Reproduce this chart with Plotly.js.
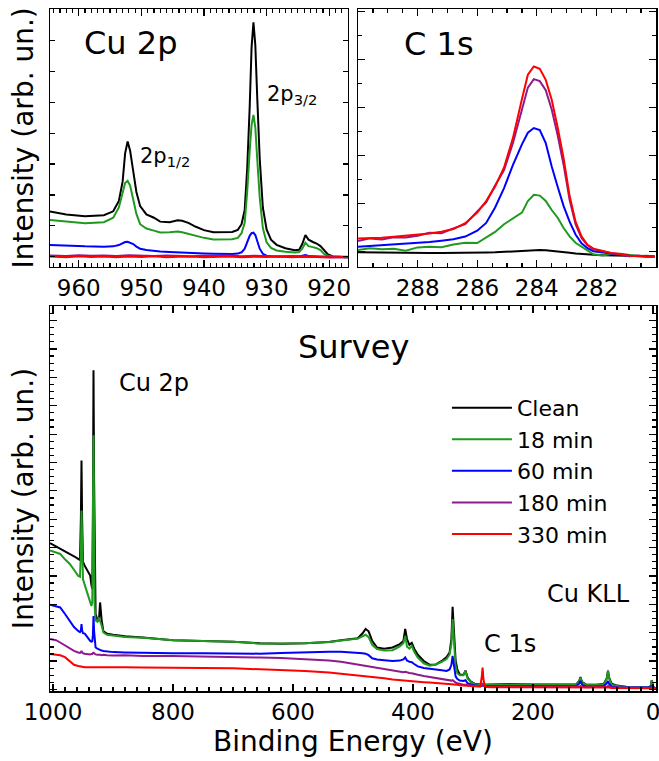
<!DOCTYPE html>
<html>
<head>
<meta charset="utf-8">
<script src="https://cdn.plot.ly/plotly-3.0.1.min.js"></script>
<style>body{margin:0;background:#fff}</style>
</head>
<body>
<div id="chart" style="width:659px;height:761px"></div>
<script>
// ---------- Series meta ----------
const seriesNames = ['Clean', '18 min', '60 min', '180 min', '330 min'];
const seriesColors = ['#000000', '#1f9a1f', '#0000ff', '#8e1b8e', '#ff0000'];

// ---------- Cu 2p panel ----------
const cu2pEnergy = [964.6, 962, 959, 956, 954.5, 953.6, 953, 952.6, 952.2, 951.8, 951.3, 950.8, 950.2, 949.2, 948, 947, 945.5, 944.2, 943.5, 942.5, 941.3, 940, 938.5, 937, 935.5, 934.6, 934, 933.5, 933.1, 932.7, 932.4, 932.1, 931.8, 931.5, 931.1, 930.6, 930, 929.3, 928.4, 927, 925.5, 924.8, 924.3, 923.8, 923.3, 922.6, 922, 921.4, 920.8, 920.2, 919.4, 918, 917];
const cu2pClean = [21.4, 20.3, 19.6, 20.0, 21.5, 25.5, 33, 44, 48.6, 45, 37, 29, 23.5, 20.3, 19.0, 17.5, 17.3, 18.0, 17.8, 17.0, 15.5, 14.2, 13.4, 13.4, 13.5, 14.3, 16.5, 22, 38, 62, 85, 94.8, 86, 66, 42, 23, 14.5, 10.5, 8.5, 7.2, 6.4, 6.6, 8.8, 12.3, 10.5, 9.6, 9.0, 8.0, 6.2, 4.8, 4.0, 3.8, 3.7];
const cu2p18 = [18.1, 17.5, 16.9, 17.3, 19.0, 23, 28.5, 32.5, 33.3, 31.5, 26, 20.5, 16.5, 14.8, 14.0, 13.3, 13.4, 13.7, 13.4, 12.8, 12.2, 11.2, 10.6, 10.6, 10.7, 11.2, 13.0, 17, 29, 45, 55, 58.9, 54, 42, 27, 15, 9.5, 7.3, 6.3, 5.8, 5.5, 5.7, 7.0, 9.3, 8.0, 7.6, 7.2, 6.5, 5.0, 4.3, 3.9, 3.8, 3.7];
const cu2p60 = [8.4, 8.1, 7.9, 7.8, 7.9, 8.4, 9.2, 9.6, 9.7, 9.4, 8.8, 7.8, 7.0, 6.5, 6.1, 5.9, 5.7, 5.5, 5.4, 5.3, 5.2, 5.1, 5.0, 4.9, 4.9, 5.1, 5.6, 7.0, 9.5, 12.0, 13.0, 13.2, 12.3, 10.0, 7.0, 5.0, 4.3, 4.1, 4.0, 3.9, 3.9, 4.0, 4.3, 4.5, 4.2, 4.0, 3.9, 3.8, 3.8, 3.7, 3.7, 3.7, 3.7];
const cu2pFlatEnergy = [964.6, 962, 960, 958, 956, 954, 952, 950, 948, 946, 944, 942, 940, 938, 936, 934, 932, 930, 928, 926, 924, 922, 920, 918, 917];
const cu2p180 = [4.4, 4.2, 4.5, 4.3, 4.4, 4.2, 4.5, 4.3, 4.2, 4.4, 4.3, 4.1, 4.3, 4.2, 4.4, 4.1, 4.3, 4.2, 4.0, 4.2, 4.1, 3.9, 4.0, 3.8, 3.9];
const cu2p330 = [4.0, 3.7, 4.1, 3.8, 4.0, 3.7, 4.0, 3.8, 4.1, 3.7, 3.9, 4.0, 3.7, 3.9, 4.0, 3.7, 3.9, 3.8, 4.0, 3.7, 3.9, 3.8, 3.6, 3.8, 3.7];
const cu2pTicks = [960, 950, 940, 930, 920];

// ---------- C 1s panel ----------
const c1sEnergy = [290, 289.6, 289.2, 288.8, 288.4, 288.0, 287.6, 287.2, 286.8, 286.4, 286.0, 285.7, 285.4, 285.1, 284.8, 284.5, 284.3, 284.1, 283.9, 283.7, 283.5, 283.3, 283.1, 282.9, 282.7, 282.5, 282.3, 282.1, 281.8, 281.5, 281.2, 280.9, 280.6, 280.3, 280.05];
const c1sClean = [5.6, 5.5, 5.5, 5.4, 5.4, 5.3, 5.3, 5.3, 5.3, 5.3, 5.4, 5.5, 5.6, 5.8, 6.0, 6.3, 6.4, 6.5, 6.5, 6.4, 6.2, 6.0, 5.7, 5.4, 5.1, 4.9, 4.7, 4.6, 4.5, 4.4, 4.3, 4.3, 4.2, 4.1, 4.1];
const c1s18 = [6.5, 7.2, 6.8, 7.0, 6.2, 7.5, 7.8, 7.6, 8.6, 9.3, 9.2, 11.5, 13.5, 16.5, 18.8, 21.0, 25.5, 27.9, 27.6, 25.5, 22.0, 19.0, 15.0, 11.8, 9.3, 7.8, 6.2, 4.8, 4.4, 4.9, 5.0, 4.5, 4.2, 4.3, 4.0];
const c1s60 = [7.8, 8.1, 8.4, 8.7, 8.9, 9.2, 9.6, 10.1, 10.7, 11.7, 14.0, 17.0, 23.0, 30.5, 39.5, 47.5, 52.0, 53.8, 53.0, 48.0, 38.9, 31.0, 23.5, 17.5, 12.5, 9.1, 7.2, 6.0, 5.5, 5.0, 4.6, 4.3, 4.2, 4.0, 3.9];
const c1s180 = [10.0, 11.0, 10.6, 11.4, 11.3, 12.0, 13.2, 13.0, 14.9, 16.5, 21.5, 25.0, 31.5, 37.5, 48, 61, 69.5, 72.8, 72.0, 68.5, 61, 51, 39.5, 26, 16.5, 11.2, 8.3, 6.8, 6.1, 5.2, 4.8, 4.1, 4.4, 3.9, 3.9];
const c1s330 = [11.0, 11.1, 11.2, 11.6, 12.0, 12.4, 12.9, 13.6, 14.6, 16.9, 21.0, 25.5, 31.1, 38.5, 50, 65, 74.5, 77.7, 76.8, 72.5, 64.8, 54, 42, 27.5, 17.5, 11.8, 8.5, 7.0, 6.0, 5.3, 4.9, 4.3, 4.1, 4.0, 3.8];
const c1sTicks = [288, 286, 284, 282];

// ---------- Survey panel ----------
const surveyEnergy = [1005, 995, 988, 980, 972, 965, 958, 955, 953.5, 952.5, 951.5, 950, 947, 944, 941, 938, 936, 934.5, 933.5, 932.5, 931.5, 930.5, 929, 926, 923.5, 921.5, 919, 916, 910, 900, 880, 850, 800, 750, 700, 655, 620, 580, 540, 520, 505, 492, 484, 479, 474, 468, 460, 448, 434, 422, 416, 413, 410, 406, 402, 398, 392, 382, 372, 362, 352, 344, 339, 336, 334, 332.5, 331, 329, 326, 322, 316, 312.5, 309, 304, 296, 288, 285.5, 284, 282.5, 280, 270, 240, 200, 160, 128, 123, 121, 118, 112, 95, 82, 77, 75, 73, 69, 60, 40, 20, 8, 4, 2, 0, -2, -5];
const surveyClean = [38.4, 37.6, 36.9, 36.2, 35.6, 35.0, 34.3, 34.0, 45, 59.9, 45, 33.5, 32.5, 31.7, 31.0, 30.0, 27.5, 26.5, 45, 83.3, 55, 28, 20, 18.5, 18.2, 23, 18.5, 15.5, 14.9, 14.6, 14.2, 13.9, 13.2, 13.0, 12.8, 12.4, 12.3, 12.4, 12.7, 13.2, 13.4, 13.7, 15.0, 16.1, 15.5, 13.0, 11.3, 11.0, 11.3, 12.2, 13.0, 16.1, 13.5, 12.0, 12.5, 11.0, 9.4, 7.8, 6.8, 6.9, 7.8, 8.8, 10.0, 13.5, 21.9, 17.5, 11.0, 8.0, 5.5, 4.3, 4.2, 5.3, 3.5, 2.5, 1.8, 1.6, 1.7, 1.9, 1.7, 1.6, 1.7, 1.8, 1.7, 1.7, 1.7, 2.6, 3.6, 2.3, 1.7, 1.6, 1.8, 3.3, 5.3, 3.4, 1.9, 1.4, 1.0, 0.9, 0.9, 1.2, 2.8, 1.2, 0.8, 0.7];
const survey18 = [36.5, 36.0, 35.6, 34.2, 33.0, 31.5, 29.9, 29.7, 36, 46.9, 36, 29.0, 27.5, 26.0, 24.5, 22.8, 22.1, 23.0, 40, 66.4, 44, 22, 18.3, 18.0, 19.1, 18.3, 17.0, 15.2, 14.6, 14.4, 14.0, 13.8, 13.2, 13.0, 12.8, 12.3, 12.3, 12.4, 12.7, 13.2, 13.4, 13.6, 14.3, 14.6, 14.0, 12.0, 10.9, 10.5, 10.6, 11.6, 12.4, 14.3, 11.5, 11.0, 11.7, 10.2, 8.7, 7.2, 6.6, 6.9, 7.6, 8.3, 9.5, 12.2, 18.7, 14.5, 9.0, 6.5, 4.6, 4.1, 4.1, 5.2, 3.2, 2.4, 1.7, 1.6, 1.7, 1.8, 1.7, 1.6, 1.7, 1.7, 1.6, 1.6, 1.6, 2.4, 3.5, 2.2, 1.6, 1.6, 1.7, 3.2, 5.2, 3.3, 1.6, 1.3, 1.0, 0.9, 0.9, 1.2, 2.8, 1.2, 0.8, 0.7];
const survey60 = [22.4, 22.0, 21.7, 20.0, 18.2, 16.6, 15.6, 15.3, 15.6, 17.4, 15.8, 15.0, 14.9, 14.2, 13.6, 13.0, 12.8, 12.9, 14.5, 19.5, 15.5, 12.3, 11.3, 11.0, 10.8, 10.6, 10.5, 10.4, 10.3, 10.1, 10.0, 9.9, 9.8, 9.8, 9.7, 9.7, 9.9, 10.1, 10.2, 10.2, 10.1, 10.0, 9.8, 9.7, 9.3, 8.5, 8.2, 8.0, 7.8, 7.9, 8.2, 8.7, 7.9, 7.6, 7.5, 7.0, 6.4, 6.0, 5.7, 5.6, 5.4, 5.2, 5.6, 6.8, 9.1, 7.4, 4.8, 3.8, 3.1, 2.7, 2.6, 2.8, 2.0, 1.7, 1.4, 1.3, 1.4, 1.5, 1.4, 1.3, 1.3, 1.3, 1.3, 1.3, 1.3, 1.9, 2.6, 1.6, 1.2, 1.2, 1.3, 2.0, 2.6, 1.8, 1.1, 1.0, 0.9, 0.9, 0.9, 1.1, 1.3, 1.0, 0.8, 0.7];
const survey180 = [13.5, 13.2, 12.6, 11.8, 10.9, 10.4, 10.0, 9.9, 10.1, 10.4, 10.0, 9.8, 9.7, 9.6, 9.7, 9.5, 9.6, 9.6, 9.8, 10.1, 9.8, 9.6, 9.5, 9.4, 9.5, 9.4, 9.3, 9.4, 9.3, 9.2, 9.3, 9.1, 9.1, 8.9, 8.8, 8.7, 8.6, 8.3, 7.9, 7.6, 7.2, 6.9, 6.7, 6.6, 6.5, 6.3, 6.1, 5.8, 5.4, 5.1, 4.9, 5.0, 4.8, 4.7, 4.6, 4.4, 4.2, 3.9, 3.6, 3.3, 3.0, 2.8, 2.7, 2.7, 2.8, 2.6, 2.4, 2.2, 2.0, 1.8, 1.6, 1.6, 1.5, 1.4, 1.3, 1.3, 1.5, 1.6, 1.4, 1.2, 1.2, 1.2, 1.1, 1.1, 1.1, 1.2, 1.3, 1.1, 1.0, 1.0, 1.0, 1.1, 1.3, 1.1, 0.9, 0.9, 0.8, 0.8, 0.8, 0.9, 1.0, 0.8, 0.7, 0.7];
const survey330 = [9.6, 9.5, 9.3, 8.8, 7.6, 6.8, 6.5, 6.4, 6.3, 6.3, 6.3, 6.3, 6.2, 6.2, 6.2, 6.2, 6.2, 6.2, 6.2, 6.3, 6.2, 6.2, 6.2, 6.2, 6.2, 6.2, 6.2, 6.2, 6.2, 6.2, 6.2, 6.1, 6.1, 6.0, 5.9, 5.7, 5.5, 5.2, 4.8, 4.5, 4.3, 4.1, 4.0, 3.9, 3.8, 3.7, 3.6, 3.3, 3.0, 2.8, 2.7, 2.7, 2.6, 2.6, 2.5, 2.5, 2.4, 2.3, 2.2, 2.1, 2.0, 1.9, 1.9, 1.8, 1.8, 1.8, 1.8, 1.7, 1.6, 1.5, 1.4, 1.4, 1.3, 1.2, 1.1, 1.1, 3.5, 6.1, 3.0, 1.1, 1.0, 1.0, 0.9, 0.9, 0.9, 0.9, 1.0, 0.9, 0.9, 0.9, 0.9, 0.9, 1.0, 0.9, 0.8, 0.8, 0.8, 0.8, 0.7, 0.7, 0.8, 0.7, 0.7, 0.7];
const surveyTickVals = [0, 200, 400, 600, 800, 1000];

// ---------- Traces ----------
const traces = [];
const cu2pX = [cu2pEnergy, cu2pEnergy, cu2pEnergy, cu2pFlatEnergy, cu2pFlatEnergy];
const cu2pY = [cu2pClean, cu2p18, cu2p60, cu2p180, cu2p330];
const c1sY = [c1sClean, c1s18, c1s60, c1s180, c1s330];
const surveyY = [surveyClean, survey18, survey60, survey180, survey330];

for (let i = 0; i < 5; i++) {
  traces.push({x: cu2pX[i], y: cu2pY[i], xaxis: 'x', yaxis: 'y', type: 'scatter', mode: 'lines',
    line: {color: seriesColors[i], width: 2}, showlegend: false, name: seriesNames[i]});
}
for (let i = 0; i < 5; i++) {
  traces.push({x: c1sEnergy, y: c1sY[i], xaxis: 'x2', yaxis: 'y2', type: 'scatter', mode: 'lines',
    line: {color: seriesColors[i], width: 2}, showlegend: false, name: seriesNames[i]});
}
for (let i = 0; i < 5; i++) {
  traces.push({x: surveyEnergy, y: surveyY[i], xaxis: 'x3', yaxis: 'y3', type: 'scatter', mode: 'lines',
    line: {color: seriesColors[i], width: 2}, showlegend: true, name: seriesNames[i]});
}

function ax(extra) {
  return Object.assign({
    showline: true, linecolor: '#000', linewidth: 1.5, mirror: 'ticks',
    ticks: 'inside', tickcolor: '#000', tickwidth: 1.2, ticklen: 7,
    zeroline: false, showgrid: false, fixedrange: true,
    tickfont: {size: 23, color: '#000', family: 'DejaVu Sans'}
  }, extra);
}

const layout = {
  width: 659, height: 761,
  margin: {l: 50, r: 3, t: 9, b: 70},
  paper_bgcolor: '#fff', plot_bgcolor: '#fff',
  font: {family: 'DejaVu Sans', color: '#000'},
  showlegend: true,
  legend: {x: 0.655, y: 0.446, xanchor: 'left', yanchor: 'top', bgcolor: 'rgba(0,0,0,0)',
           font: {size: 22, family: 'DejaVu Sans', color: '#000'}, itemwidth: 60, tracegroupgap: 0},
  xaxis: ax({domain: [0, 0.4917], range: [964.6, 917], anchor: 'y',
             tickmode: 'array', tickvals: cu2pTicks,
             minor: {tickmode: 'linear', tick0: 920, dtick: 1, ticks: 'inside', ticklen: 4, tickcolor: '#000'}}),
  yaxis: ax({domain: [0.6221, 1], range: [0, 100], anchor: 'x', showticklabels: false,
             tick0: 3.9, dtick: 11.98, ticklen: 5,
             title: {text: 'Intensity (arb. un.)', font: {size: 28}, standoff: 6}}),
  xaxis2: ax({domain: [0.5083, 1], range: [290, 280], anchor: 'y2',
              tickmode: 'array', tickvals: c1sTicks,
              minor: {tickmode: 'linear', tick0: 280, dtick: 0.5, ticks: 'inside', ticklen: 4, tickcolor: '#000'}}),
  yaxis2: ax({domain: [0.6221, 1], range: [0, 100], anchor: 'x2', showticklabels: false,
              tick0: 5.8, dtick: 18.66,
              minor: {tick0: 5.8, dtick: 9.33, ticks: 'inside', ticklen: 4, tickcolor: '#000'}}),
  xaxis3: ax({domain: [0, 1], range: [1005, -5], anchor: 'y3',
              tickmode: 'array', tickvals: surveyTickVals,
              ticklabelstandoff: 0, ticklabeloverflow: 'allow',
              minor: {tickmode: 'linear', tick0: 0, dtick: 20, ticks: 'inside', ticklen: 4, tickcolor: '#000'},
              title: {text: 'Binding Energy (eV)', font: {size: 28}, standoff: 4}}),
  yaxis3: ax({domain: [0, 0.5645], range: [0, 100], anchor: 'x3', showticklabels: false,
              tick0: 0.4, dtick: 7.37,
              minor: {tick0: 0.4, dtick: 1.8425, ticks: 'inside', ticklen: 4, tickcolor: '#000'},
              title: {text: 'Intensity (arb. un.)', font: {size: 28}, standoff: 6}}),
  annotations: [
    {xref: 'x', yref: 'y', x: 951.8, y: 86.9, text: 'Cu 2p', showarrow: false, font: {size: 32}},
    {xref: 'x', yref: 'y', x: 950.6, y: 42.6, xanchor: 'left', text: '2p<sub>1/2</sub>', showarrow: false, font: {size: 21}},
    {xref: 'x', yref: 'y', x: 930.3, y: 66.7, xanchor: 'left', text: '2p<sub>3/2</sub>', showarrow: false, font: {size: 21}},
    {xref: 'x2', yref: 'y2', x: 288.53, y: 86.5, xanchor: 'left', text: 'C 1s', showarrow: false, font: {size: 32}},
    {xref: 'x3', yref: 'y3', x: 500, y: 89.3, text: 'Survey', showarrow: false, font: {size: 32}},
    {xref: 'x3', yref: 'y3', x: 832, y: 80, text: 'Cu 2p', showarrow: false, font: {size: 24}},
    {xref: 'x3', yref: 'y3', x: 108, y: 25.3, text: 'Cu KLL', showarrow: false, font: {size: 24}},
    {xref: 'x3', yref: 'y3', x: 238, y: 12.2, text: 'C 1s', showarrow: false, font: {size: 24}}
  ]
};

Plotly.newPlot('chart', traces, layout, {displayModeBar: false, staticPlot: true});
</script>
</body>
</html>
